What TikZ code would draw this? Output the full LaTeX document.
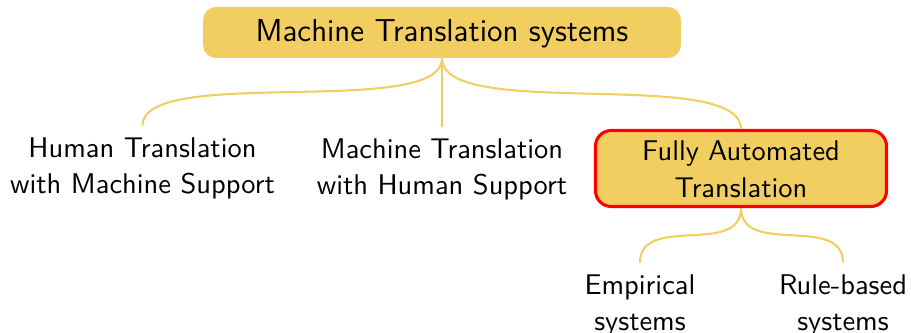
\documentclass[tikz,border=0pt]{standalone}
\usepackage{fontspec}
\definecolor{mtyellow}{RGB}{242,206,96}
\tikzset{
  mtbox/.style={fill=mtyellow, rounded corners=5pt, inner sep=0pt,
    font=\sffamily\fontsize{12.2}{14.5}\selectfont},
  mtleaf/.style={inner sep=0pt, text height=12pt, anchor=base,
    font=\sffamily\fontsize{10.95}{14}\selectfont},
  mtsel/.style={mtbox, draw=red, line width=1.2pt, rounded corners=6pt,
    font=\sffamily\fontsize{10.95}{14}\selectfont},
  mtedge/.style={draw=mtyellow, line width=0.8pt},
}
\newcommand{\mtlines}[2]{\begin{tabular}[t]{@{}c@{}}#1\\#2\end{tabular}}
\begin{document}
\begin{tikzpicture}[x=0.3846pt,y=-0.3846pt]
\useasboundingbox (0,0) rectangle (911,333);
\node[mtbox, anchor=base, minimum width=183.8pt, text height=13.35pt, text depth=6.27pt] (root) at (442,41.7) {Machine Translation systems};
\node[mtleaf] (hms) at (142.5,157.3) {\mtlines{Human Translation}{with Machine Support}};
\node[mtleaf] (mhs) at (442,158.3) {\mtlines{Machine Translation}{with Human Support}};
\node[mtsel, anchor=base, minimum width=111.9pt, text height=11.6pt, text depth=17.6pt] (fat) at (741,160.7) {\mtlines{Fully Automated}{Translation}};
\node[mtleaf] (emp) at (640,294.3) {\mtlines{Empirical}{systems}};
\node[mtleaf] (rul) at (843,294.3) {\mtlines{Rule-based}{systems}};
\draw[mtedge] (root.south) .. controls +(0,61) and +(0,-61) .. (hms.north);
\draw[mtedge] (root.south) -- (mhs.north);
\draw[mtedge] (root.south) .. controls +(0,63) and +(0,-63) .. (fat.north);
\draw[mtedge] (fat.south) .. controls +(0,49) and +(0,-49) .. (emp.north);
\draw[mtedge] (fat.south) .. controls +(0,49) and +(0,-49) .. (rul.north);
\end{tikzpicture}
\end{document}
